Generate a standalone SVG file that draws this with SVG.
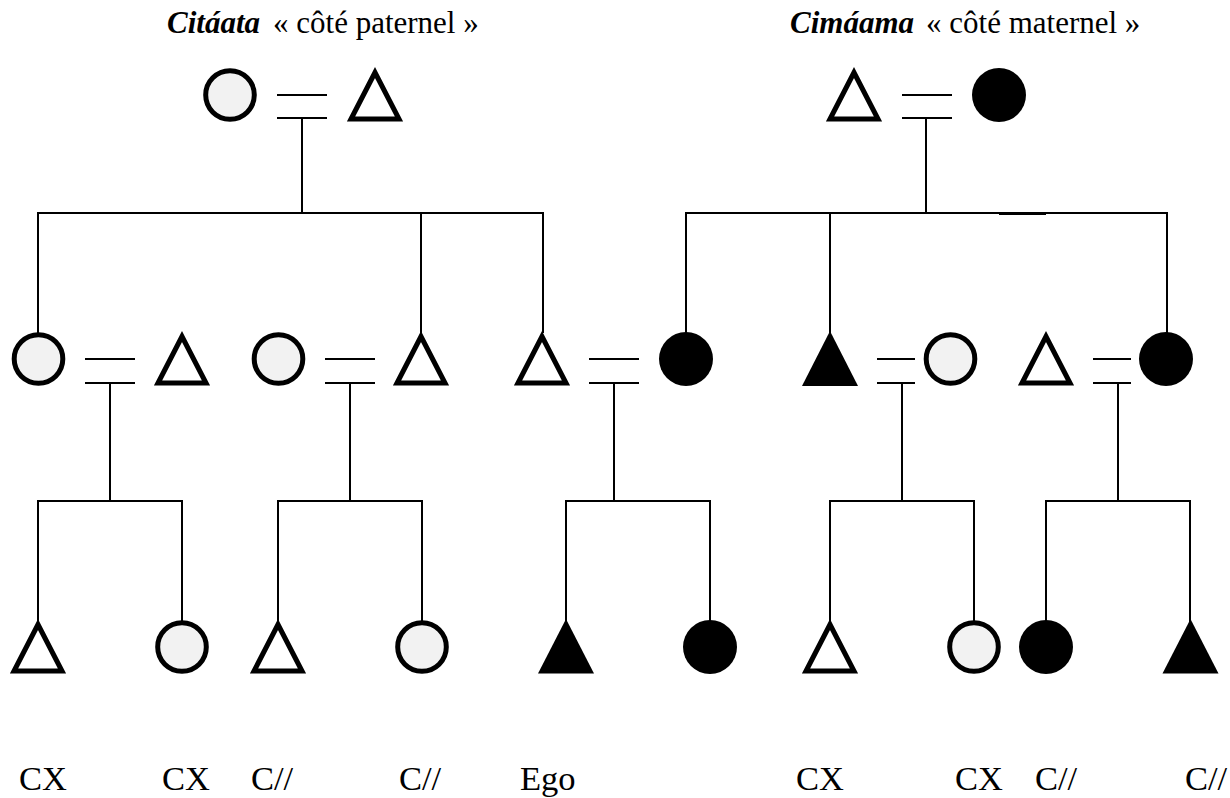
<svg xmlns="http://www.w3.org/2000/svg" width="1230" height="798" viewBox="0 0 1230 798">
<style>
.ln{stroke:#000;stroke-width:2;fill:none}
.lc{fill:#f2f2f2;stroke:#000;stroke-width:5}
.bc{fill:#000}
.wt{fill:#fff;stroke:#000;stroke-width:5;stroke-linejoin:miter;stroke-miterlimit:10}
.bt{fill:#000}
text{font-family:'Liberation Serif','DejaVu Serif',serif;fill:#000}
.lab{font-size:34.5px}
.ttl{font-size:31px}
</style>
<rect width="1230" height="798" fill="#fff"/>
<g id="titles">
<text class="ttl" x="167" y="33"><tspan font-weight="bold" font-style="italic">Citáata</tspan><tspan dx="13">« côté paternel »</tspan></text>
<text class="ttl" x="790" y="33"><tspan font-weight="bold" font-style="italic">Cimáama</tspan><tspan dx="12">« côté maternel »</tspan></text>
</g>
<g id="connectors">
<line class="ln" x1="277" y1="95" x2="327" y2="95"/>
<line class="ln" x1="277" y1="118" x2="327" y2="118"/>
<line class="ln" x1="302" y1="118" x2="302" y2="213"/>
<line class="ln" x1="37" y1="213" x2="544" y2="213"/>
<line class="ln" x1="38" y1="213" x2="38" y2="334"/>
<line class="ln" x1="421" y1="213" x2="421" y2="333"/>
<line class="ln" x1="543" y1="213" x2="543" y2="333"/>
<line class="ln" x1="902" y1="95" x2="952" y2="95"/>
<line class="ln" x1="902" y1="118" x2="952" y2="118"/>
<line class="ln" x1="926" y1="118" x2="926" y2="213"/>
<line class="ln" x1="685" y1="213" x2="1168" y2="213"/>
<line class="ln" x1="999" y1="214" x2="1046" y2="214"/>
<line class="ln" x1="686" y1="213" x2="686" y2="334"/>
<line class="ln" x1="830" y1="213" x2="830" y2="333"/>
<line class="ln" x1="1167" y1="213" x2="1167" y2="334"/>
<line class="ln" x1="85" y1="359" x2="135" y2="359"/>
<line class="ln" x1="85" y1="383" x2="135" y2="383"/>
<line class="ln" x1="110" y1="383" x2="110" y2="501"/>
<line class="ln" x1="37" y1="501" x2="183" y2="501"/>
<line class="ln" x1="38" y1="501" x2="38" y2="622"/>
<line class="ln" x1="182" y1="501" x2="182" y2="622"/>
<line class="ln" x1="325" y1="359" x2="375" y2="359"/>
<line class="ln" x1="325" y1="383" x2="375" y2="383"/>
<line class="ln" x1="350" y1="383" x2="350" y2="501"/>
<line class="ln" x1="277" y1="501" x2="423" y2="501"/>
<line class="ln" x1="278" y1="501" x2="278" y2="622"/>
<line class="ln" x1="422" y1="501" x2="422" y2="622"/>
<line class="ln" x1="589" y1="359" x2="639" y2="359"/>
<line class="ln" x1="589" y1="383" x2="639" y2="383"/>
<line class="ln" x1="614" y1="383" x2="614" y2="501"/>
<line class="ln" x1="565" y1="501" x2="711" y2="501"/>
<line class="ln" x1="566" y1="501" x2="566" y2="622"/>
<line class="ln" x1="710" y1="501" x2="710" y2="622"/>
<line class="ln" x1="877" y1="359" x2="915" y2="359"/>
<line class="ln" x1="877" y1="383" x2="915" y2="383"/>
<line class="ln" x1="902" y1="383" x2="902" y2="501"/>
<line class="ln" x1="829" y1="501" x2="975" y2="501"/>
<line class="ln" x1="830" y1="501" x2="830" y2="622"/>
<line class="ln" x1="974" y1="501" x2="974" y2="622"/>
<line class="ln" x1="1093" y1="359" x2="1131" y2="359"/>
<line class="ln" x1="1093" y1="383" x2="1131" y2="383"/>
<line class="ln" x1="1118" y1="383" x2="1118" y2="501"/>
<line class="ln" x1="1045" y1="501" x2="1191" y2="501"/>
<line class="ln" x1="1046" y1="501" x2="1046" y2="622"/>
<line class="ln" x1="1190" y1="501" x2="1190" y2="622"/>
</g>
<g id="gp-f"><circle class="lc" cx="230" cy="95" r="24.3"/></g>
<g id="gp-m"><polygon class="wt" points="375,72.5 351,119 399,119"/></g>
<g id="gm-m"><polygon class="wt" points="854,72.5 830,119 878,119"/></g>
<g id="gm-f"><circle class="bc" cx="999" cy="95" r="27"/></g>
<g id="p1"><circle class="lc" cx="38.5" cy="359" r="24.3"/></g>
<g id="p2"><polygon class="wt" points="182,336.5 158,383 206,383"/></g>
<g id="p3"><circle class="lc" cx="278.5" cy="359" r="24.3"/></g>
<g id="p4"><polygon class="wt" points="421,336.5 397,383 445,383"/></g>
<g id="p5"><polygon class="wt" points="542,336.5 518,383 566,383"/></g>
<g id="p6"><circle class="bc" cx="686" cy="359" r="27"/></g>
<g id="p7"><polygon class="bt" points="830,331 802,386 858,386"/></g>
<g id="p8"><circle class="lc" cx="950.5" cy="359" r="24.3"/></g>
<g id="p9"><polygon class="wt" points="1046,336.5 1022,383 1070,383"/></g>
<g id="p10"><circle class="bc" cx="1166" cy="359" r="27"/></g>
<g id="c1"><polygon class="wt" points="38,624.5 14,671 62,671"/></g>
<g id="c2"><circle class="lc" cx="182" cy="647" r="24.3"/></g>
<g id="c3"><polygon class="wt" points="278,624.5 254,671 302,671"/></g>
<g id="c4"><circle class="lc" cx="422" cy="647" r="24.3"/></g>
<g id="c5"><polygon class="bt" points="566,619 538,673.5 594,673.5"/></g>
<g id="c6"><circle class="bc" cx="710" cy="647" r="27"/></g>
<g id="c7"><polygon class="wt" points="830,624.5 806,671 854,671"/></g>
<g id="c8"><circle class="lc" cx="974" cy="647" r="24.3"/></g>
<g id="c9"><circle class="bc" cx="1046" cy="647" r="27"/></g>
<g id="c10"><polygon class="bt" points="1190.5,619 1162.5,673.5 1218.5,673.5"/></g>
<g id="labels">
<text class="lab" x="19" y="790">CX</text>
<text class="lab" x="162" y="790">CX</text>
<text class="lab" x="251" y="790">C//</text>
<text class="lab" x="399" y="790">C//</text>
<text class="lab" x="520" y="790">Ego</text>
<text class="lab" x="796" y="790">CX</text>
<text class="lab" x="955" y="790">CX</text>
<text class="lab" x="1035" y="790">C//</text>
<text class="lab" x="1185" y="790">C//</text>
</g>
</svg>
